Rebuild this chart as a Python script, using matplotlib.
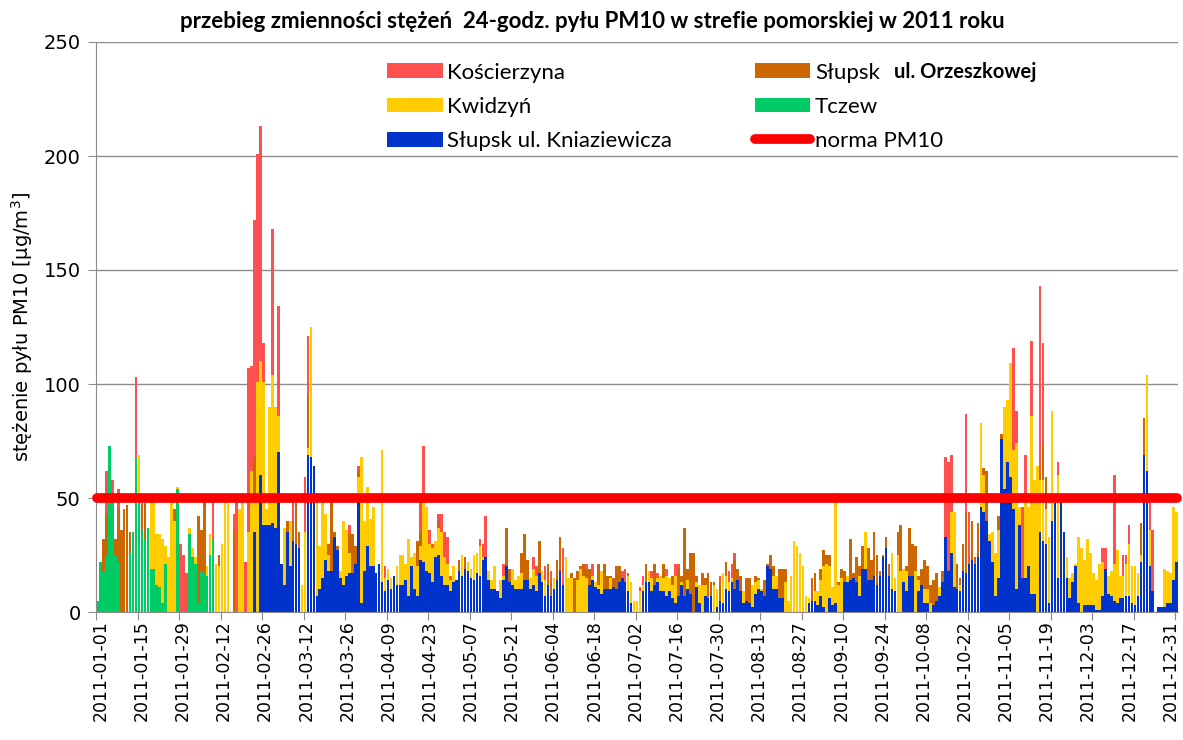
import numpy as np
import pandas as pd
import matplotlib
matplotlib.use('Agg')
import matplotlib.pyplot as plt
import matplotlib.transforms as mtransforms
from matplotlib.patches import Patch
from matplotlib.lines import Line2D

# daily PM10 (24h), 2011, 0 = no visible bar
days = pd.date_range('2011-01-01', '2011-12-31', freq='D')
tick_labels = [d.strftime('%Y-%m-%d') for d in days[::14]]

koscierzyna = [
    0, 0, 22, 62, 62, 58, 0, 54, 21, 0, 0, 0, 0, 103,
    0, 0, 0, 0, 0, 0, 0, 0, 0, 0, 0, 0, 0, 0,
    30, 25, 17, 0, 0, 0, 0, 0, 0, 0, 0, 49, 0, 0,
    0, 0, 0, 0, 43, 49, 0, 0, 22, 107, 108, 172, 201, 213,
    118, 0, 0, 168, 0, 134, 0, 0, 0, 0, 49, 0, 0, 0,
    59, 121, 109, 0, 0, 0, 0, 0, 0, 0, 0, 0, 0, 0,
    0, 38, 0, 0, 64, 0, 0, 0, 0, 0, 0, 19, 0, 20,
    0, 0, 0, 0, 0, 0, 0, 0, 0, 0, 0, 49, 73, 0,
    36, 30, 0, 43, 43, 35, 33, 16, 0, 0, 0, 0, 0, 0,
    0, 0, 0, 32, 30, 42, 0, 0, 0, 0, 0, 21, 22, 0,
    0, 0, 0, 0, 0, 0, 0, 24, 20, 0, 0, 20, 0, 18,
    0, 0, 0, 28, 0, 0, 0, 0, 0, 0, 0, 21, 0, 21,
    0, 0, 0, 0, 0, 0, 0, 0, 0, 18, 19, 17, 0, 0,
    0, 11, 16, 0, 0, 18, 0, 17, 0, 0, 19, 0, 0, 21,
    21, 0, 0, 0, 19, 0, 0, 0, 0, 0, 0, 0, 0, 0,
    16, 0, 0, 18, 21, 26, 0, 0, 0, 0, 0, 0, 0, 0,
    0, 0, 0, 0, 0, 0, 0, 0, 0, 0, 0, 0, 0, 0,
    0, 0, 0, 0, 0, 0, 0, 0, 0, 0, 0, 0, 0, 0,
    0, 0, 0, 0, 0, 0, 0, 0, 0, 0, 0, 0, 0, 0,
    0, 0, 0, 0, 0, 0, 0, 0, 0, 0, 0, 0, 0, 0,
    0, 0, 0, 0, 0, 0, 68, 66, 69, 0, 0, 0, 0, 87,
    44, 0, 0, 0, 0, 0, 0, 0, 0, 0, 0, 0, 0, 0,
    0, 116, 88, 0, 46, 69, 0, 119, 0, 0, 143, 118, 0, 0,
    0, 0, 66, 0, 0, 0, 0, 0, 0, 0, 0, 0, 0, 0,
    0, 0, 0, 28, 28, 6, 18, 60, 0, 16, 25, 25, 38, 0,
    13, 0, 0, 0, 0, 49, 36, 0, 0, 0, 0, 0, 0, 0,
    0,
]

slupsk_orzeszkowej = [
    0, 0, 32, 43, 0, 0, 32, 45, 36, 45, 47, 35, 0, 0,
    0, 48, 48, 0, 0, 0, 18, 0, 0, 29, 0, 0, 45, 0,
    0, 0, 0, 0, 0, 0, 42, 36, 49, 0, 0, 0, 0, 25,
    0, 0, 0, 0, 36, 0, 0, 0, 0, 0, 0, 68, 0, 0,
    0, 0, 72, 0, 0, 0, 0, 0, 40, 0, 40, 48, 35, 0,
    0, 95, 0, 0, 0, 25, 0, 0, 30, 51, 35, 29, 0, 0,
    0, 34, 34, 29, 62, 0, 0, 0, 0, 0, 0, 0, 0, 0,
    0, 0, 0, 0, 0, 0, 0, 0, 0, 0, 31, 35, 0, 0,
    0, 0, 0, 40, 0, 0, 0, 0, 0, 0, 23, 0, 24, 0,
    0, 0, 0, 0, 0, 0, 0, 0, 0, 0, 0, 0, 37, 19,
    0, 0, 0, 26, 34, 23, 0, 0, 0, 31, 0, 0, 21, 13,
    0, 23, 33, 0, 0, 15, 17, 15, 18, 20, 21, 19, 19, 0,
    0, 21, 0, 21, 16, 16, 15, 20, 20, 0, 0, 0, 0, 0,
    0, 0, 0, 21, 0, 0, 21, 0, 0, 21, 0, 0, 16, 0,
    19, 16, 37, 19, 26, 26, 16, 0, 17, 15, 17, 13, 13, 0,
    13, 0, 22, 0, 0, 23, 19, 16, 0, 15, 15, 0, 16, 15,
    0, 14, 21, 25, 20, 0, 19, 19, 19, 0, 0, 0, 0, 0,
    0, 0, 0, 15, 17, 0, 19, 27, 25, 25, 0, 0, 13, 19,
    18, 0, 32, 17, 24, 20, 29, 0, 28, 23, 35, 25, 18, 25,
    33, 21, 15, 0, 35, 38, 0, 20, 37, 30, 29, 16, 19, 23,
    20, 12, 14, 17, 0, 18, 0, 19, 0, 20, 21, 15, 30, 44,
    0, 40, 24, 39, 0, 63, 62, 0, 0, 0, 42, 78, 0, 0,
    0, 0, 0, 0, 0, 0, 0, 0, 0, 56, 62, 73, 59, 0,
    0, 0, 0, 0, 0, 0, 0, 0, 0, 0, 27, 0, 23, 18,
    13, 0, 0, 0, 0, 0, 0, 0, 0, 0, 0, 0, 0, 0,
    0, 0, 39, 85, 0, 0, 0, 0, 0, 0, 0, 0, 0, 0,
    0,
]

kwidzyn = [
    0, 0, 0, 0, 0, 0, 0, 0, 0, 0, 0, 0, 0, 0,
    69, 0, 0, 0, 50, 49, 34, 34, 32, 29, 24, 49, 40, 55,
    0, 0, 0, 37, 28, 24, 0, 0, 0, 20, 34, 0, 21, 20,
    30, 49, 50, 0, 0, 0, 45, 49, 0, 35, 62, 51, 101, 110,
    101, 45, 90, 104, 90, 86, 0, 37, 0, 40, 0, 0, 0, 12,
    35, 72, 125, 0, 49, 29, 49, 43, 25, 0, 0, 0, 18, 40,
    36, 26, 0, 0, 59, 68, 40, 55, 41, 46, 0, 0, 71, 15,
    19, 15, 0, 20, 25, 25, 21, 32, 24, 26, 20, 29, 49, 46,
    30, 28, 31, 37, 35, 24, 21, 14, 20, 0, 0, 25, 0, 22,
    19, 25, 26, 29, 24, 0, 18, 14, 20, 0, 14, 16, 0, 0,
    19, 14, 16, 17, 0, 0, 15, 19, 16, 0, 18, 14, 0, 0,
    15, 0, 0, 0, 24, 15, 15, 0, 14, 19, 16, 15, 0, 16,
    13, 12, 18, 0, 0, 15, 0, 0, 0, 0, 0, 16, 13, 5,
    5, 9, 12, 0, 18, 15, 0, 15, 16, 15, 16, 15, 12, 16,
    0, 13, 0, 14, 0, 0, 13, 12, 12, 12, 0, 0, 12, 10,
    0, 17, 16, 13, 15, 0, 0, 0, 9, 0, 0, 12, 13, 14,
    10, 0, 0, 0, 16, 16, 0, 0, 13, 5, 16, 31, 29, 26,
    20, 7, 6, 0, 9, 9, 14, 20, 21, 20, 11, 52, 12, 15,
    0, 16, 0, 0, 0, 16, 0, 35, 0, 0, 0, 0, 0, 0,
    0, 0, 26, 15, 25, 18, 19, 18, 0, 0, 18, 14, 0, 10,
    10, 4, 0, 0, 11, 0, 0, 0, 44, 44, 0, 12, 0, 0,
    0, 0, 0, 0, 83, 60, 0, 34, 35, 26, 36, 0, 90, 93,
    109, 71, 74, 46, 0, 50, 46, 86, 58, 64, 58, 58, 45, 33,
    88, 49, 60, 0, 24, 24, 15, 17, 21, 33, 28, 23, 32, 26,
    17, 14, 21, 22, 17, 16, 18, 21, 27, 16, 16, 21, 30, 20,
    20, 17, 25, 0, 104, 36, 0, 0, 0, 0, 19, 18, 17, 46,
    44,
]

# Tczew: measurements only until early February
tczew = [
    5, 22, 18, 25, 73, 52, 25, 22, 0, 0, 0, 26, 35, 68,
    52, 36, 32, 37, 19, 19, 12, 11, 4, 21, 0, 0, 0, 54,
    0, 0, 0, 34, 24, 21, 4, 18, 17, 16, 25, 32, 0, 0,
] + [None] * 323

slupsk_kniaziewicza = [
    0, 0, 0, 0, 0, 0, 0, 0, 0, 0, 0, 0, 0, 0,
    0, 0, 0, 0, 0, 0, 0, 0, 0, 0, 0, 0, 0, 0,
    0, 0, 0, 0, 0, 0, 0, 0, 0, 0, 0, 0, 0, 0,
    0, 0, 0, 0, 0, 0, 0, 0, 0, 0, 0, 35, 0, 60,
    38, 38, 38, 39, 37, 70, 21, 12, 35, 20, 31, 30, 28, 0,
    0, 69, 68, 64, 7, 10, 15, 23, 18, 18, 33, 27, 15, 12,
    16, 17, 17, 21, 50, 4, 18, 29, 20, 20, 17, 21, 13, 9,
    14, 10, 16, 12, 12, 12, 14, 7, 20, 10, 7, 23, 22, 18,
    17, 13, 24, 25, 16, 12, 12, 9, 13, 14, 18, 16, 19, 18,
    15, 14, 17, 16, 23, 24, 14, 10, 10, 9, 6, 14, 20, 13,
    12, 10, 10, 10, 14, 14, 10, 12, 9, 17, 13, 7, 12, 7,
    10, 14, 18, 12, 0, 0, 0, 0, 0, 0, 0, 0, 12, 14,
    11, 10, 8, 10, 10, 10, 11, 10, 13, 15, 13, 9, 4, 0,
    0, 0, 9, 13, 13, 9, 12, 13, 9, 9, 7, 9, 6, 4,
    7, 12, 7, 10, 8, 0, 11, 4, 0, 7, 6, 7, 0, 2,
    5, 4, 10, 9, 13, 10, 14, 9, 4, 5, 4, 2, 8, 10,
    9, 7, 20, 19, 10, 10, 6, 6, 0, 0, 0, 0, 0, 0,
    0, 0, 4, 5, 5, 3, 7, 2, 0, 6, 3, 4, 0, 0,
    13, 13, 14, 15, 13, 7, 19, 19, 14, 14, 16, 12, 16, 24,
    28, 16, 10, 9, 0, 0, 13, 9, 16, 16, 0, 9, 12, 4,
    4, 0, 3, 5, 7, 13, 33, 18, 26, 11, 10, 9, 18, 17,
    21, 23, 21, 24, 46, 44, 40, 31, 22, 7, 15, 76, 54, 66,
    59, 45, 10, 38, 15, 15, 20, 8, 8, 0, 35, 31, 30, 4,
    40, 48, 15, 49, 35, 15, 6, 13, 20, 4, 0, 3, 3, 3,
    3, 1, 1, 7, 19, 8, 7, 5, 4, 6, 6, 7, 7, 4,
    3, 7, 22, 69, 62, 20, 9, 0, 2, 2, 2, 4, 4, 14,
    22,
]

norma_pm10 = 50

series = [
    ('Kościerzyna', koscierzyna, '#FF5050'),
    ('Słupsk', slupsk_orzeszkowej, '#CC6600'),
    ('Kwidzyń', kwidzyn, '#FFCC00'),
    ('Tczew', tczew, '#00CC66'),
    ('Słupsk ul. Kniaziewicza', slupsk_kniaziewicza, '#0033CC'),
]

fig = plt.figure(figsize=(11.83, 7.40), dpi=100)
ax = fig.add_axes([96 / 1183, 1 - 612 / 740, 1082 / 1183, 570 / 740])

x = np.arange(len(days))
handles = {}
for name, vals, col in series:
    vals = np.array(vals, dtype=float)
    ax.bar(x, vals, width=0.9, color=col, linewidth=0, zorder=2)
    handles[name] = Patch(facecolor=col)

ax.plot(x, np.full(len(x), norma_pm10), color='#FF0000', lw=7,
        solid_capstyle='round', zorder=3, clip_on=False)
handles['norma PM10'] = Line2D([], [], color='#FF0000', lw=7, solid_capstyle='round')

ax.set_xlim(-0.5, len(days) - 0.5)
ax.set_ylim(0, 250)
ax.set_yticks(np.arange(0, 251, 50))
ax.yaxis.grid(True, color='#8c8c8c', lw=1)
ax.set_axisbelow(True)

ax.set_xticks(np.arange(0, len(days), 14) - 0.5)
ax.set_xticklabels([])
ax.set_xticks(np.arange(0, len(days), 14), minor=True)
ax.set_xticklabels(tick_labels, minor=True, rotation=90, fontsize=12.5)
ax.tick_params(axis='x', which='minor', length=0, pad=6)
ax.tick_params(axis='x', which='major', length=6, color='#8c8c8c')
ax.tick_params(axis='y', length=6, color='#8c8c8c', labelsize=14, pad=5)

# squeeze the rotated date labels a little so the last one stays inside
n_lab = len(tick_labels)
for i, lab in enumerate(ax.get_xticklabels(minor=True)):
    shift = 3 - 9 * i / (n_lab - 1)
    lab.set_transform(lab.get_transform() +
                      mtransforms.ScaledTranslation(shift / 100, 0, fig.dpi_scale_trans))

for s in ['top', 'right']:
    ax.spines[s].set_visible(False)
for s in ['left', 'bottom']:
    ax.spines[s].set_color('#8c8c8c')

ax.set_ylabel('stężenie pyłu PM10 [µg/m$^3$]', fontsize=14, labelpad=6)

leg_font = {'family': ['Lato', 'DejaVu Sans'], 'size': 16}
leg_kw = dict(loc='upper left', frameon=False, prop=leg_font, handlelength=2.5,
              handleheight=0.65, handletextpad=0.2, labelspacing=0.64,
              borderpad=0, borderaxespad=0)
leg1 = ax.legend([handles[k] for k in ['Kościerzyna', 'Kwidzyń', 'Słupsk ul. Kniaziewicza']],
                 ['Kościerzyna', 'Kwidzyń', 'Słupsk ul. Kniaziewicza'],
                 bbox_to_anchor=(0.269, 0.964), **leg_kw)
ax.add_artist(leg1)
ax.legend([handles[k] for k in ['Słupsk', 'Tczew', 'norma PM10']],
          ['Słupsk', 'Tczew', 'norma PM10'],
          bbox_to_anchor=(0.609, 0.964), **leg_kw)
fig.text(894 / 1183, 1 - 72 / 740, 'ul. Orzeszkowej', fontsize=14.5, fontweight='bold',
         family=['Lato', 'DejaVu Sans'], ha='left', va='center')

fig.text(592 / 1183, 1 - 22 / 740,
         'przebieg zmienności stężeń  24-godz. pyłu PM10 w strefie pomorskiej w 2011 roku',
         fontsize=16, fontweight='bold', family=['Lato', 'DejaVu Sans'],
         ha='center', va='center')

fig.savefig('out.png', dpi=100)
